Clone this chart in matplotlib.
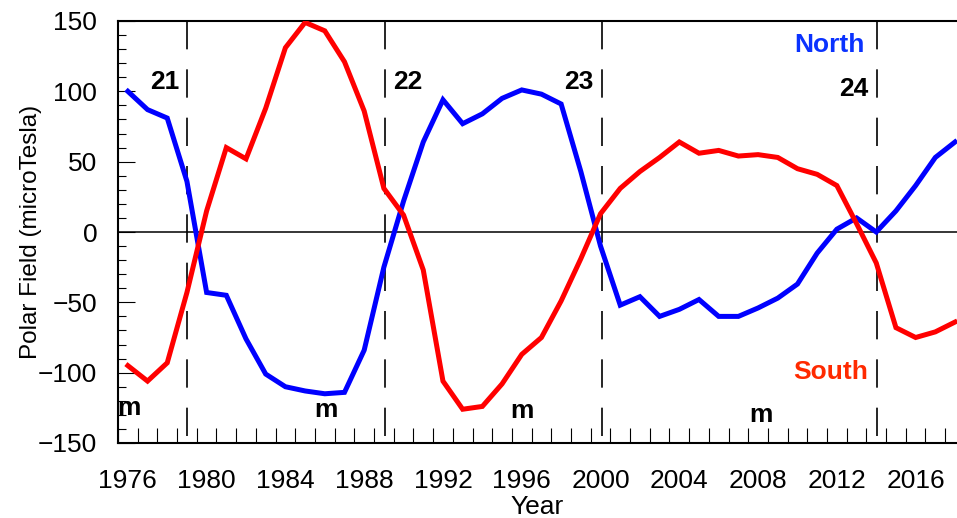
import numpy as np
import matplotlib.pyplot as plt
from matplotlib.ticker import MultipleLocator, FixedLocator

plt.rcParams['font.family'] = ['Liberation Sans', 'DejaVu Sans']

# Yearly polar field values (microTesla)
years = list(range(1976, 2019))
north = [100, 87, 81, 36, -43, -45, -76, -101, -110, -113, -115, -114, -84, -25,
         22, 64, 94, 77, 84, 95, 101, 98, 91, 43, -10, -52, -46, -60, -55, -48,
         -60, -60, -54, -47, -37, -15, 2, 10, 0, 15, 33, 53, 64]
south = [-95, -106, -93, -43, 15, 60, 52, 88, 131, 149, 143, 121, 86, 31,
         12, -27, -106, -126, -124, -108, -87, -75, -49, -19, 13, 31, 43, 53, 64, 56,
         58, 54, 55, 53, 45, 41, 33, 6, -22, -68, -75, -71, -64]

# Cycle markers
cycle_lines = [1979.0, 1989.05, 2000.1, 2014.05]
cycle_names = ['21', '22', '23', '24']
minima = [1976.08, 1986.05, 1996.0, 2008.15]

fig = plt.figure(figsize=(9.57, 5.18), dpi=100)
ax = fig.add_axes([118 / 957, 75 / 518, 839 / 957, 422 / 518])

ax.axhline(0, color='black', lw=1.1, zorder=1)
for xc in cycle_lines:
    ax.plot([xc, xc], [150, -150], color='black', lw=1.2,
            dashes=(17, 12), zorder=1)

ax.plot(years, north, color='#0000ff', lw=3.6, solid_joinstyle='miter', zorder=3)
ax.plot(years, south, color='#ff0000', lw=3.6, solid_joinstyle='miter', zorder=3)

bold = dict(fontsize=19, fontweight='bold', va='baseline')
ax.text(1978.64, 101.4, cycle_names[0], ha='right', **bold)
ax.text(1989.45, 101.4, cycle_names[1], ha='left', **bold)
ax.text(1999.65, 101.4, cycle_names[2], ha='right', **bold)
ax.text(2013.6, 96.7, cycle_names[3], ha='right', **bold)
ax.text(2013.4, 127.7, 'North', ha='right', color='#0a32ff', **bold)
ax.text(2013.6, -104.7, 'South', ha='right', color='#ff2a00', **bold)
ax.text(minima[0], -130, 'm', ha='center', **bold)
ax.text(minima[1], -131.7, 'm', ha='center', **bold)
ax.text(minima[2], -131.9, 'm', ha='center', **bold)
ax.text(minima[3], -135, 'm', ha='center', **bold)

ax.set_xlim(1975.5, 2018.1)
ax.set_ylim(-150, 150)

ax.xaxis.set_major_locator(FixedLocator(list(range(1976, 2018, 4))))
ax.xaxis.set_minor_locator(FixedLocator(list(np.arange(1975.5, 2018.5, 1.0))))
ax.yaxis.set_major_locator(MultipleLocator(50))
ax.yaxis.set_minor_locator(MultipleLocator(10))

ax.tick_params(axis='x', which='major', length=0, pad=18.5, labelsize=19)
ax.tick_params(axis='x', which='minor', direction='in', length=11, width=0.8)
ax.tick_params(axis='y', which='major', direction='in', length=12, width=0.8,
               pad=15, labelsize=19)
ax.tick_params(axis='y', which='minor', direction='in', length=6, width=0.8)

for side in ['left', 'bottom', 'top']:
    ax.spines[side].set_linewidth(1.5)
ax.spines['right'].set_visible(False)

ax.set_xlabel('Year', fontsize=19, labelpad=2)
ax.set_ylabel('Polar Field (microTesla)', fontsize=17.5, labelpad=-3)

fig.savefig('out.png', dpi=100)
